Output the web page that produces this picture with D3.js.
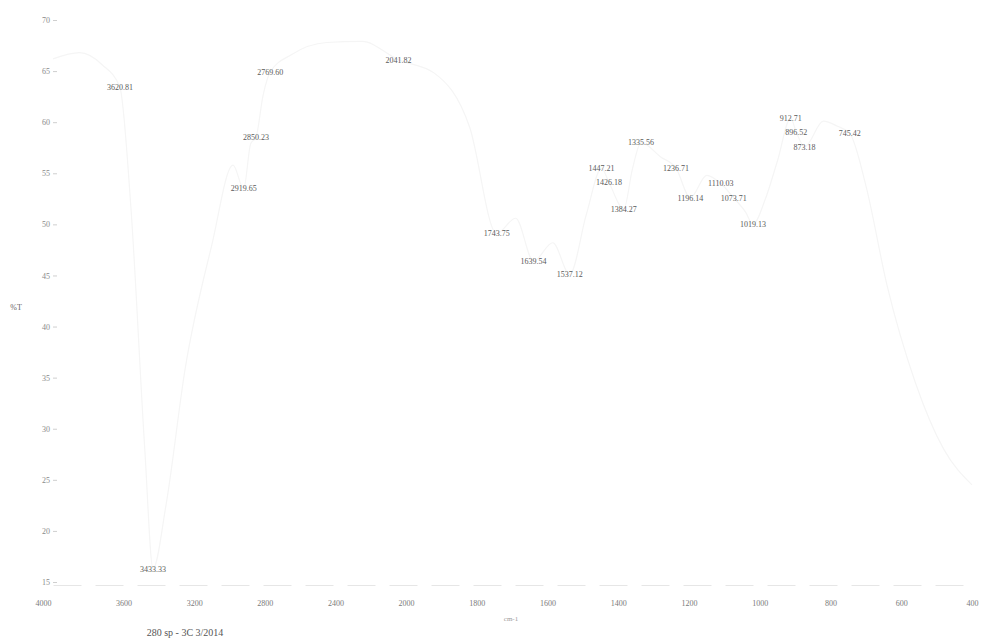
<!DOCTYPE html>
<html>
<head>
<meta charset="utf-8">
<script src="https://cdn.jsdelivr.net/npm/d3@7"></script>
<style>
  html, body { margin: 0; padding: 0; background: #fff; }
  svg { display: block; }
  text { font-family: "Liberation Serif", "DejaVu Serif", serif; }
</style>
</head>
<body>
<svg id="chart" width="990" height="644"></svg>
<script>
// FTIR transmittance spectrum, sample 280 sp - 3C

// x-axis tick labels (wavenumber, cm-1); the scale doubles its resolution below 2000
const xTicks = [4000, 3600, 3200, 2800, 2400, 2000, 1800, 1600, 1400, 1200, 1000, 800, 600, 400];
// y-axis tick labels (%T)
const yTicks = [15, 20, 25, 30, 35, 40, 45, 50, 55, 60, 65, 70];

// labelled absorption bands: wavenumber and transmittance at the band
const peakWavenumbers = [3620.81, 3433.33, 2919.65, 2850.23, 2769.60, 2041.82,
  1743.75, 1639.54, 1537.12, 1447.21, 1426.18, 1384.27, 1335.56, 1236.71,
  1196.14, 1110.03, 1073.71, 1019.13, 912.71, 896.52, 873.18, 745.42];
const peakTransmittance = [63.4, 16.3, 53.5, 58.5, 64.9, 66.1,
  49.1, 46.4, 45.1, 55.5, 54.1, 51.5, 58.0, 55.5,
  52.6, 54.0, 52.6, 50.0, 60.4, 59.0, 57.6, 58.9];

// recorded trace (wavenumber, %T)
const traceWavenumbers = [4000, 3850, 3720, 3620.81, 3560, 3480, 3433.33, 3360, 3250, 3100,
  2980, 2919.65, 2880, 2850.23, 2810, 2769.60, 2650, 2450, 2250, 2041.82,
  1920, 1820, 1743.75, 1690, 1639.54, 1585, 1537.12, 1490, 1447.21, 1426.18,
  1384.27, 1360, 1335.56, 1280, 1236.71, 1196.14, 1150, 1110.03, 1073.71, 1040,
  1019.13, 985, 950, 912.71, 896.52, 873.18, 820, 780, 745.42, 700, 640, 560, 480, 400];
const traceTransmittance = [66.2, 66.8, 65.6, 63.4, 52.0, 28.0, 16.3, 22.5, 36.0, 48.0,
  55.8, 53.5, 57.9, 58.5, 62.6, 64.9, 66.6, 67.8, 67.9, 66.1,
  64.8, 59.5, 49.1, 50.6, 46.4, 48.2, 45.1, 51.0, 55.5, 54.1,
  51.5, 55.4, 58.0, 56.6, 55.5, 52.6, 54.8, 54.0, 52.6, 51.2,
  50.0, 52.4, 56.2, 60.4, 59.0, 57.6, 60.1, 59.6, 58.9, 53.8, 44.0, 34.5, 28.0, 24.5];

const svg = d3.select("#chart");

const x = d3.scaleLinear().domain([4000, 2000, 400]).range([53, 406, 972]);
const y = d3.scaleLinear().domain([15, 70]).range([582, 20]);

// spectrum trace (very faint on this printout)
const trace = traceWavenumbers.map((w, i) => [w, traceTransmittance[i]]);
svg.append("path")
  .datum(trace)
  .attr("fill", "none")
  .attr("stroke", "#f5f5f5")
  .attr("stroke-width", 1.2)
  .attr("d", d3.line().x(d => x(d[0])).y(d => y(d[1])).curve(d3.curveMonotoneX));

// y axis
const yAxis = svg.append("g")
  .attr("transform", "translate(57,0)")
  .call(d3.axisLeft(y).tickValues(yTicks).tickSize(4).tickPadding(3).tickFormat(d3.format("d")));
yAxis.select(".domain").remove();
yAxis.selectAll(".tick line").attr("stroke", "#cfcfcf");
yAxis.selectAll(".tick text").attr("fill", "#8a8a8a").attr("font-size", 8)
  .attr("font-family", "Liberation Serif, serif");

// x axis
const xAxis = svg.append("g")
  .attr("transform", "translate(0,585)")
  .call(d3.axisBottom(x).tickValues(xTicks).tickSize(0).tickPadding(15).tickFormat(d3.format("d")));
xAxis.select(".domain").attr("stroke", "#e6e6e6").attr("stroke-dasharray", "28,14");
xAxis.selectAll(".tick text").attr("fill", "#7a7a7a").attr("font-size", 8)
  .attr("font-family", "Liberation Serif, serif");
// first label sits to the left of the axis start
xAxis.selectAll(".tick text").filter(d => d === 4000).attr("text-anchor", "end").attr("dx", "-2");

// axis titles
svg.append("text").attr("x", 16).attr("y", 310).attr("text-anchor", "middle")
  .attr("font-size", 8).attr("fill", "#666").text("%T");
svg.append("text").attr("x", 511).attr("y", 621).attr("text-anchor", "middle")
  .attr("font-size", 7).attr("fill", "#9a9a9a").text("cm-1");

// band labels
const peaks = peakWavenumbers.map((w, i) => ({ w, t: peakTransmittance[i] }));
svg.append("g").selectAll("text")
  .data(peaks)
  .join("text")
  .attr("x", d => x(d.w))
  .attr("y", d => y(d.t))
  .attr("dy", "0.35em")
  .attr("text-anchor", "middle")
  .attr("font-size", 8)
  .attr("fill", "#5a5a5a")
  .text(d => d3.format(".2f")(d.w));

// sample caption
svg.append("text").attr("x", 185).attr("y", 636).attr("text-anchor", "middle")
  .attr("font-size", 10).attr("fill", "#555").text("280 sp - 3C 3/2014");
</script>
</body>
</html>
